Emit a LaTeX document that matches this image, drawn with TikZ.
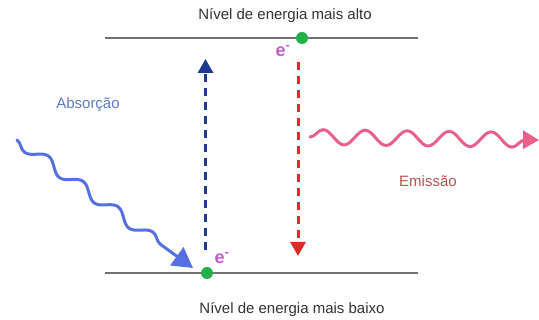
\documentclass[tikz,border=0pt]{standalone}
\usepackage{fontspec}
\setmainfont{Liberation Sans}
\usetikzlibrary{arrows.meta,decorations.pathmorphing}
\definecolor{levelgray}{HTML}{707070}
\definecolor{dotgreen}{HTML}{22B04B}
\definecolor{upnavy}{HTML}{1C3A8E}
\definecolor{downred}{HTML}{E5262B}
\definecolor{elmag}{HTML}{C55BCB}
\definecolor{absblue}{HTML}{5B7BC4}
\definecolor{waveblue}{HTML}{5570E0}
\definecolor{wavepink}{HTML}{E9608A}
\definecolor{emisred}{HTML}{B9534F}
\tikzset{
  level/.style={levelgray, line width=2pt},
  eldot/.style={circle, fill=dotgreen, inner sep=0pt, minimum size=12pt},
  jump/.style={line width=3pt, dash pattern=on 8pt off 6pt, -{Triangle[length=14pt,width=15pt]}},
  photon/.style={line width=3pt, line cap=round, decorate},
  lbl/.style={font=\fontsize{15}{17}\selectfont, text=black!80},
  elec/.style={font=\fontsize{18}{20}\selectfont\bfseries, text=elmag, inner sep=1pt}
}
\begin{document}
\begin{tikzpicture}[x=1pt,y=-1pt]
    \useasboundingbox (0,0) rectangle (539,320);
    %%energy levels
    \coordinate (hiL) at (105,38);
    \coordinate (hiR) at (418,38);
    \coordinate (loL) at (105,273);
    \coordinate (loR) at (418,273);
    \draw[level] (hiL) to (hiR);
    \draw[level] (loL) to (loR);
    \node[lbl] (hitext) at (285,16) {Nível de energia mais alto};
    \node[lbl] (lotext) at (292,310) {Nível de energia mais baixo};
    %%electron jumps
    \coordinate (upstart) at (205.5,250);
    \coordinate (upend) at (205.5,59);
    \coordinate (downstart) at (298,62);
    \coordinate (downend) at (298,256);
    \draw[jump, upnavy] (upstart) to (upend);
    \draw[jump, downred] (downstart) to (downend);
    \node[eldot] (hidot) at (302,38) {};
    \node[eldot] (lodot) at (207,273) {};
    \node[elec] (hie) at (283,51) {e\textsuperscript{-}};
    \node[elec] (loe) at (222,258) {e\textsuperscript{-}};
    %%absorption
    \coordinate (absstart) at (17,140);
    \coordinate (absend) at (193,268);
    \draw[photon, waveblue, decoration={snake, segment length=43pt, amplitude=5.5pt, post length=22pt, mirror},
      -{Triangle[length=20pt,width=22pt]}] (absstart) to (absend);
    \node[lbl, text=absblue] (abstext) at (88,105) {Absorção};
    %%emission
    \coordinate (emstart) at (310,137);
    \coordinate (emend) at (539,140);
    \draw[photon, wavepink, decoration={snake, segment length=42pt, amplitude=7.5pt, post length=12pt},
      -{Triangle[length=16pt,width=18pt]}] (emstart) to (emend);
    \node[lbl, text=emisred] (emtext) at (428,181) {Emissão};
\end{tikzpicture}
\end{document}
